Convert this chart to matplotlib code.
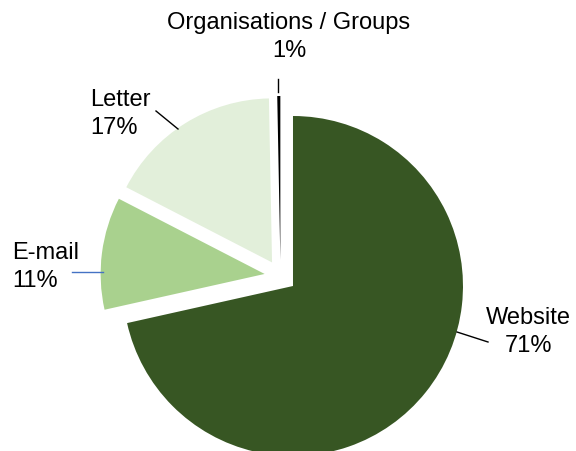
import matplotlib.pyplot as plt

plt.rcParams['font.family'] = ['Liberation Sans', 'DejaVu Sans']

# data
labels = ['Website', 'E-mail', 'Letter', 'Organisations / Groups']
shares = [71, 11, 17, 0.3]       # slice sizes as drawn
pct_text = ['71%', '11%', '17%', '1%']
colors = ['#375623', '#A9D18E', '#E2EFDA', '#000000']

W, H = 576, 452
fig = plt.figure(figsize=(W/100, H/100), dpi=100)
ax = fig.add_axes([0, 0, 1, 1])

R = 170
cx, cy = 280.5, H - 277
wedges, _ = ax.pie(shares, colors=colors, startangle=90, counterclock=False,
                   explode=[16]*4, radius=R, center=(cx, cy),
                   wedgeprops=dict(linewidth=0), frame=False)
# the small slices come out a bit smaller than the big one
for w in wedges[1:]:
    w.set_radius(164)
ax.set_xlim(0, W)
ax.set_ylim(0, H)
ax.set_aspect('equal')
ax.axis('off')

fs = 17
def lab(i, x, y, ha):
    ax.text(x, H - y, f'{labels[i]}\n{pct_text[i]}', ha=ha, va='center',
            fontsize=fs, linespacing=1.35, color='black')

lab(3, 289, 37, 'center')
lab(2, 90, 114, 'left')
lab(1, 12, 267, 'left')
lab(0, 528, 332, 'center')

# leader lines
ax.plot([278, 278], [H-80, H-93], color='black', lw=1)
ax.plot([156, 178], [H-112, H-130], color='black', lw=1)
ax.plot([72, 103], [H-273, H-273], color='#4472C4', lw=1)
ax.plot([457, 488], [H-333, H-343], color='black', lw=1)

fig.savefig('out.png', dpi=100)
